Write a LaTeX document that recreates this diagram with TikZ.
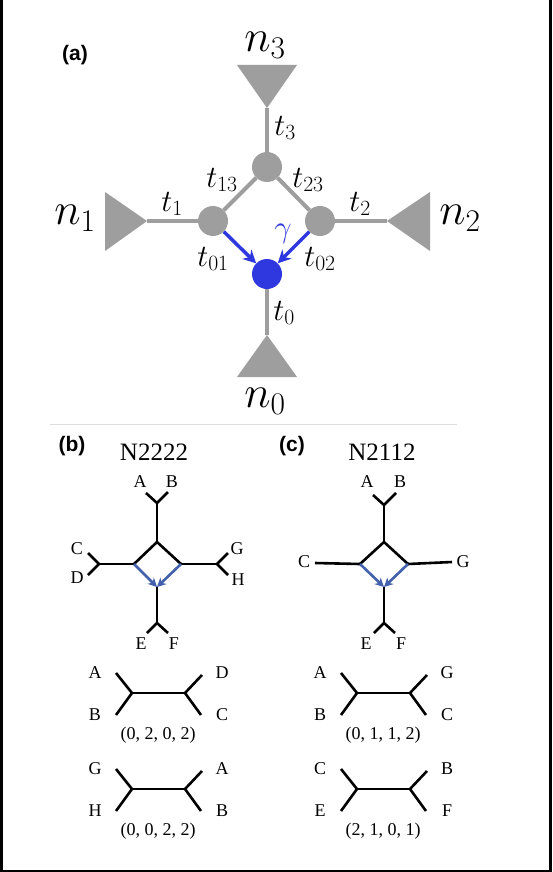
\documentclass[tikz,border=0pt]{standalone}
\usepackage{fix-cm}
\usepackage{fontspec}
\newfontfamily\tnr{Liberation Serif}
\newfontfamily\arl{Liberation Sans}
\usetikzlibrary{arrows.meta}
\definecolor{grayc}{RGB}{158,158,158}
\definecolor{bluec}{RGB}{46,56,222}
\definecolor{sblue}{RGB}{66,96,172}
\definecolor{sepc}{RGB}{222,222,222}
\tikzset{
  x=1pt, y=-1pt,
  gline/.style={draw=grayc, line width=4pt},
  gtri/.style={fill=grayc},
  gnode/.style={circle, fill=grayc, minimum size=30pt, inner sep=0pt},
  bnode/.style={circle, fill=bluec, minimum size=30pt, inner sep=0pt},
  barrow/.style={draw=bluec, line width=3.5pt, -{Stealth[length=13pt,width=13pt]}},
  nlab/.style={font=\fontsize{45}{50}\selectfont, inner sep=0pt},
  tlab/.style={font=\fontsize{31}{34}\selectfont, inner sep=0pt},
  panel/.style={font=\arl\bfseries\fontsize{21}{24}\selectfont, inner sep=0pt},
  ttl/.style={font=\tnr\fontsize{25}{28}\selectfont, inner sep=0pt},
  leaf/.style={font=\tnr\fontsize{18}{21}\selectfont, inner sep=0pt},
  qlab/.style={font=\tnr\fontsize{18}{21}\selectfont, inner sep=0pt},
  tline/.style={draw=black, line width=2.6pt},
  sarrow/.style={draw=sblue, line width=2.6pt, -{Stealth[length=9pt,width=9pt]}},
}
% quartet tree: #1 prefix, #2 x, #3 y, #4 UL, #5 LL, #6 UR, #7 LR, #8 tuple
\newcommand\qtree[8]{%
  \begin{scope}[shift={(#2,#3)}]
    \coordinate (#1l) at (0,0);
    \coordinate (#1r) at (53,0);
    \coordinate (#1ul) at (-16,-20);
    \coordinate (#1ll) at (-16,22);
    \coordinate (#1ur) at (70,-18);
    \coordinate (#1lr) at (69,22);
    \draw[tline] (#1ul) -- (#1l) -- (#1ll);
    \draw[tline] (#1l) -- (#1r);
    \draw[tline] (#1ur) -- (#1r) -- (#1lr);
    \node[qlab] (#1tul) at (-37,-20) {#4};
    \node[qlab] (#1tll) at (-37,22) {#5};
    \node[qlab] (#1tur) at (90,-20) {#6};
    \node[qlab] (#1tlr) at (90,22) {#7};
    \node[qlab] (#1tup) at (26,42) {#8};
  \end{scope}}
\begin{document}
\begin{tikzpicture}
\useasboundingbox (0,0) rectangle (552,872);
\fill[white] (0,0) rectangle (552,872);
% frame edges
\fill[black] (0,0) rectangle (3,872);
\fill[black] (549,0) rectangle (552,872);
\fill[black] (0,870) rectangle (552,872);

% ---------------- panel (a)
\node[panel] (pa) at (75,55) {(a)};
\coordinate (a3) at (267,108);
\coordinate (a1) at (147,221);
\coordinate (a2) at (387,221);
\coordinate (a0) at (267,335);
\fill[gtri] (237,65) -- (297,65) -- (a3) -- cycle;
\fill[gtri] (105,192) -- (105,251) -- (a1) -- cycle;
\fill[gtri] (430,192) -- (430,251) -- (a2) -- cycle;
\fill[gtri] (237,377) -- (297,377) -- (a0) -- cycle;
\node[gnode] (top) at (267,167) {};
\node[gnode] (lft) at (213,221) {};
\node[gnode] (rgt) at (320,221) {};
\node[bnode] (bot) at (267,274) {};
\draw[gline] (a3) -- (top);
\draw[gline] (a1) -- (lft);
\draw[gline] (a2) -- (rgt);
\draw[gline] (a0) -- (bot);
\draw[gline] (top) -- (lft);
\draw[gline] (top) -- (rgt);
\draw[barrow] (lft) -- (bot);
\draw[barrow] (rgt) -- (bot);
\node[nlab] (n3) at (265,45) {$n_3$};
\node[nlab] (n1) at (75,218) {$n_1$};
\node[nlab] (n2) at (460,218) {$n_2$};
\node[nlab] (n0) at (265,401) {$n_0$};
\node[tlab] (t3) at (285,128) {$t_3$};
\node[tlab] (t13) at (222,180) {$t_{13}$};
\node[tlab] (t23) at (308,180) {$t_{23}$};
\node[tlab] (t1) at (172,204) {$t_1$};
\node[tlab] (t2) at (360,204) {$t_2$};
\node[tlab] (t01) at (213,259) {$t_{01}$};
\node[tlab] (t02) at (320,259) {$t_{02}$};
\node[tlab, text=bluec] (gam) at (283,234) {$\gamma$};
\node[tlab] (t0) at (284,313) {$t_0$};

% separator
\coordinate (s1) at (50,424);
\coordinate (s2) at (457,424);
\draw[draw=sepc, line width=1pt] (s1) -- (s2);

% ---------------- panel (b)
\node[panel] (pb) at (72,446) {(b)};
\node[ttl] (tb) at (154,452) {N2222};
\coordinate (bT) at (157,542);
\coordinate (bL) at (134,564);
\coordinate (bR) at (181,564);
\coordinate (bB) at (157,587);
\coordinate (bTF) at (157,503);
\coordinate (bA) at (146,493);
\coordinate (bBb) at (168,492);
\coordinate (bLF) at (99,564);
\coordinate (bC) at (88,553);
\coordinate (bD) at (88,575);
\coordinate (bRF) at (217,564);
\coordinate (bG) at (228,553);
\coordinate (bH) at (228,575);
\coordinate (bBF) at (157,623);
\coordinate (bE) at (147,633);
\coordinate (bF) at (168,633);
\draw[tline] (bL) -- (bT) -- (bR);
\draw[tline] (bT) -- (bTF);
\draw[tline] (bA) -- (bTF) -- (bBb);
\draw[tline] (bL) -- (bLF);
\draw[tline] (bC) -- (bLF) -- (bD);
\draw[tline] (bR) -- (bRF);
\draw[tline] (bG) -- (bRF) -- (bH);
\draw[tline] (bB) -- (bBF);
\draw[tline] (bE) -- (bBF) -- (bF);
\draw[sarrow] (bL) -- (bB);
\draw[sarrow] (bR) -- (bB);
\node[leaf] (lbA) at (140,482) {A};
\node[leaf] (lbB) at (172,482) {B};
\node[leaf] (lbC) at (77,549) {C};
\node[leaf] (lbD) at (77,578) {D};
\node[leaf] (lbG) at (237,549) {G};
\node[leaf] (lbH) at (238,580) {H};
\node[leaf] (lbE) at (141,644) {E};
\node[leaf] (lbF) at (174,644) {F};

% ---------------- panel (c)
\node[panel] (pc) at (292,446) {(c)};
\node[ttl] (tc) at (382,452) {N2112};
\coordinate (cT) at (384,542);
\coordinate (cL) at (360,564);
\coordinate (cR) at (408,564);
\coordinate (cB) at (384,587);
\coordinate (cTF) at (384,505);
\coordinate (cA) at (373,495);
\coordinate (cBb) at (396,493);
\coordinate (cC) at (315,563);
\coordinate (cG) at (452,562);
\coordinate (cBF) at (384,623);
\coordinate (cE) at (374,633);
\coordinate (cF) at (395,633);
\draw[tline] (cL) -- (cT) -- (cR);
\draw[tline] (cT) -- (cTF);
\draw[tline] (cA) -- (cTF) -- (cBb);
\draw[tline] (cL) -- (cC);
\draw[tline] (cR) -- (cG);
\draw[tline] (cB) -- (cBF);
\draw[tline] (cE) -- (cBF) -- (cF);
\draw[sarrow] (cL) -- (cB);
\draw[sarrow] (cR) -- (cB);
\node[leaf] (lcA) at (367,482) {A};
\node[leaf] (lcB) at (400,482) {B};
\node[leaf] (lcC) at (304,562) {C};
\node[leaf] (lcG) at (463,562) {G};
\node[leaf] (lcE) at (366,644) {E};
\node[leaf] (lcF) at (401,644) {F};

% ---------------- quartets
\qtree{qa}{132}{693}{A}{B}{D}{C}{(0, 2, 0, 2)}
\qtree{qb}{132}{789}{G}{H}{A}{B}{(0, 0, 2, 2)}
\qtree{qc}{357}{693}{A}{B}{G}{C}{(0, 1, 1, 2)}
\qtree{qd}{357}{789}{C}{E}{B}{F}{(2, 1, 0, 1)}
\end{tikzpicture}
\end{document}
